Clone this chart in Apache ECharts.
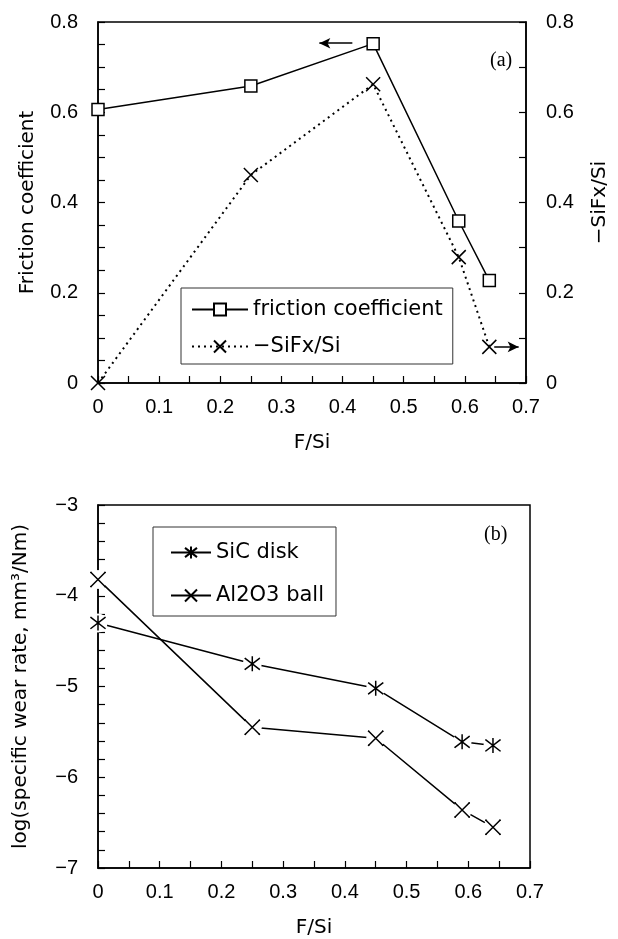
<!DOCTYPE html>
<html><head><meta charset="utf-8">
<script src="https://cdn.jsdelivr.net/npm/echarts@6/dist/echarts.min.js"></script>
<style>html,body{margin:0;padding:0;background:#fff}#c{width:618px;height:939px}</style>
</head><body><div id="c"></div>
<script>
// ---- data ----
const fsi = [0, 0.25, 0.45, 0.59, 0.64];
const friction = [0.606, 0.658, 0.752, 0.359, 0.227];
const sifx = [0, 0.461, 0.662, 0.279, 0.080];
const sicDisk = [-4.30, -4.75, -5.02, -5.61, -5.65];
const al2o3Ball = [-3.82, -5.45, -5.57, -6.36, -6.55];
// annotation arrows (data coordinates)
const leftArrow = [[0.416, 0.753], [0.362, 0.753]];
const rightArrow = [[0.648, 0.080], [0.688, 0.080]];

const TICKFONT = '"Liberation Sans", Arial, sans-serif';
const FONT = '"DejaVu Sans", "Liberation Sans", sans-serif';
const SERIF = '"Liberation Serif", "DejaVu Serif", serif';
const BLACK = '#000';
const XPATH = 'path://M0,0 L10,10 M10,0 L0,10';
const STARPATH = 'path://M0,0 L10,10 M10,0 L0,10 M5,-1.5 L5,11.5';
const pairs = (xs, ys) => xs.map((x, i) => [x, ys[i]]);
const num = v => { const s = String(+v.toFixed(2)); return s.replace('-', '\u2212'); };

const lbl = {color: BLACK, fontFamily: TICKFONT, fontSize: 20, formatter: num};
const nameStyle = {color: BLACK, fontFamily: FONT, fontSize: 20};
const line = {lineStyle: {color: BLACK, width: 1.5}};
const tick = {inside: true, length: 7, lineStyle: {color: BLACK, width: 1.2}};

function xAxis(grid) {
  return {
    gridIndex: grid, type: 'value', min: 0, max: 0.7, interval: 0.1,
    axisLine: line, axisTick: tick,
    minorTick: {show: true, splitNumber: 2, length: 7, lineStyle: {color: BLACK, width: 1.2}},
    splitLine: {show: false},
    axisLabel: Object.assign({margin: 14}, lbl),
    name: 'F/Si', nameLocation: 'middle', nameGap: 50, nameTextStyle: nameStyle
  };
}

const option = {
  animation: false,
  backgroundColor: '#fff',
  title: [
    {text: '(a)', left: 485, top: 46, textStyle: {fontFamily: SERIF, fontSize: 20, fontWeight: 'normal', color: BLACK}},
    {text: '(b)', left: 479, top: 520, textStyle: {fontFamily: SERIF, fontSize: 20, fontWeight: 'normal', color: BLACK}}
  ],
  grid: [
    {left: 98, top: 22, width: 434, height: 361, show: true, borderColor: BLACK, borderWidth: 1.5},
    {left: 98, top: 505, width: 432, height: 365, show: true, borderColor: BLACK, borderWidth: 1.5}
  ],
  legend: [
    {data: ['friction coefficient', '\u2212SiFx/Si'], orient: 'vertical', left: 181, top: 288,
     itemWidth: 56, itemHeight: 15, itemGap: 16, padding: [11, 10, 7, 10],
     borderColor: '#333', borderWidth: 1, backgroundColor: '#fff',
     textStyle: {color: BLACK, fontFamily: FONT, fontSize: 21}},
    {data: ['SiC disk', 'Al2O3 ball'], orient: 'vertical', left: 153, top: 527,
     itemWidth: 40, itemHeight: 15, itemGap: 22, padding: [15, 12, 10, 17],
     borderColor: '#333', borderWidth: 1, backgroundColor: '#fff',
     textStyle: {color: BLACK, fontFamily: FONT, fontSize: 21}}
  ],
  xAxis: [xAxis(0), xAxis(1)],
  yAxis: [
    {gridIndex: 0, type: 'value', min: 0, max: 0.8, interval: 0.2, position: 'left',
     axisLine: line, axisTick: tick,
     minorTick: {show: true, splitNumber: 4, length: 7, lineStyle: {color: BLACK, width: 1.2}},
     splitLine: {show: false}, axisLabel: Object.assign({margin: 20}, lbl),
     name: 'Friction coefficient', nameLocation: 'middle', nameRotate: 90, nameGap: 60, nameTextStyle: nameStyle},
    {gridIndex: 0, type: 'value', min: 0, max: 0.8, interval: 0.2, position: 'right',
     axisLine: line, axisTick: tick,
     minorTick: {show: true, splitNumber: 2, length: 7, lineStyle: {color: BLACK, width: 1.2}},
     splitLine: {show: false}, axisLabel: Object.assign({margin: 20}, lbl),
     name: '\u2212SiFx/Si', nameLocation: 'middle', nameRotate: 90, nameGap: 64, nameTextStyle: nameStyle},
    {gridIndex: 1, type: 'value', min: -7, max: -3, interval: 1, position: 'left',
     axisLine: line, axisTick: tick,
     minorTick: {show: true, splitNumber: 5, length: 7, lineStyle: {color: BLACK, width: 1.2}},
     splitLine: {show: false}, axisLabel: Object.assign({margin: 20}, lbl),
     name: 'log(specific wear rate, mm\u00B3/Nm)', nameLocation: 'middle', nameRotate: 90, nameGap: 67, nameTextStyle: nameStyle}
  ],
  series: [
    {name: 'friction coefficient', type: 'line', xAxisIndex: 0, yAxisIndex: 0, data: pairs(fsi, friction),
     symbol: 'rect', symbolSize: 12, z: 3,
     itemStyle: {color: '#fff', borderColor: BLACK, borderWidth: 1.5},
     lineStyle: {color: BLACK, width: 1.5},
     markLine: {silent: true, symbol: ['none', 'arrow'], symbolSize: [8, 11], label: {show: false},
       lineStyle: {color: BLACK, width: 1.5, type: 'solid'},
       data: [[{coord: leftArrow[0]}, {coord: leftArrow[1]}]]}},
    {name: '\u2212SiFx/Si', type: 'line', xAxisIndex: 0, yAxisIndex: 1, data: pairs(fsi, sifx),
     symbol: XPATH, symbolSize: 14, z: 2,
     itemStyle: {color: 'none', borderColor: BLACK, borderWidth: 1.5},
     lineStyle: {color: BLACK, width: 2, type: [2, 4]},
     markLine: {silent: true, symbol: ['none', 'arrow'], symbolSize: [8, 11], label: {show: false},
       lineStyle: {color: BLACK, width: 1.5, type: 'solid'},
       data: [[{coord: rightArrow[0]}, {coord: rightArrow[1]}]]}},
    {name: 'SiC disk', type: 'line', xAxisIndex: 1, yAxisIndex: 2, data: pairs(fsi, sicDisk),
     symbol: STARPATH, symbolSize: 15, z: 2,
     itemStyle: {color: 'none', borderColor: BLACK, borderWidth: 1.5},
     lineStyle: {color: BLACK, width: 1.5}},
    {name: 'Al2O3 ball', type: 'line', xAxisIndex: 1, yAxisIndex: 2, data: pairs(fsi, al2o3Ball),
     symbol: XPATH, symbolSize: 15, z: 2,
     itemStyle: {color: 'none', borderColor: BLACK, borderWidth: 1.5},
     lineStyle: {color: BLACK, width: 1.5}},
    // white masks to leave small gaps around markers
    {type: 'line', xAxisIndex: 1, yAxisIndex: 2, data: pairs(fsi, sicDisk), symbol: 'circle', symbolSize: 19, z: 3,
     itemStyle: {color: '#fff', borderWidth: 0}, lineStyle: {opacity: 0, width: 0}, silent: true},
    {type: 'line', xAxisIndex: 1, yAxisIndex: 2, data: pairs(fsi, al2o3Ball), symbol: 'circle', symbolSize: 19, z: 3,
     itemStyle: {color: '#fff', borderWidth: 0}, lineStyle: {opacity: 0, width: 0}, silent: true},
    {type: 'line', xAxisIndex: 1, yAxisIndex: 2, data: pairs(fsi, sicDisk), symbol: STARPATH, symbolSize: 15, z: 4,
     itemStyle: {color: 'none', borderColor: BLACK, borderWidth: 1.5}, lineStyle: {opacity: 0, width: 0}, silent: true},
    {type: 'line', xAxisIndex: 1, yAxisIndex: 2, data: pairs(fsi, al2o3Ball), symbol: XPATH, symbolSize: 15, z: 4,
     itemStyle: {color: 'none', borderColor: BLACK, borderWidth: 1.5}, lineStyle: {opacity: 0, width: 0}, silent: true}
  ]
};
const chart = echarts.init(document.getElementById('c'), null, {renderer: 'canvas'});
chart.setOption(option);
</script></body></html>
